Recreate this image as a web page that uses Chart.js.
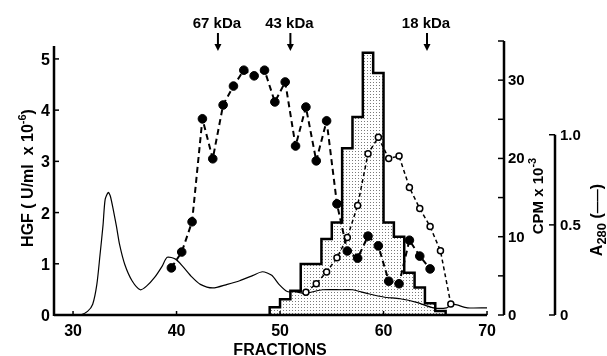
<!DOCTYPE html>
<html>
<head>
<meta charset="utf-8">
<script src="https://cdn.jsdelivr.net/npm/chart.js@4.4.1/dist/chart.umd.min.js"></script>
<style>
  html, body { margin: 0; padding: 0; background: #fff; }
  #wrap { width: 607px; height: 356px; position: relative; }
</style>
</head>
<body>
<div id="wrap"><canvas id="chart"></canvas></div>
<script>
// HGF activity (filled circles), U/ml x 10^-6
const hgfFractions = [39.5, 40.5, 41.5, 42.5, 43.5, 44.5, 45.5, 46.5, 47.5, 48.5, 49.5, 50.5, 51.5,
	52.5, 53.5, 54.5, 55.5, 56.5, 57.5, 58.5, 59.5, 60.5, 61.5, 62.5, 63.5, 64.5];
const hgfValues = [0.92, 1.23, 1.82, 3.83, 3.05, 4.10, 4.47, 4.78, 4.67, 4.78, 4.16, 4.55, 3.30,
	4.06, 3.01, 3.79, 2.17, 1.25, 1.11, 1.54, 1.35, 0.66, 0.61, 1.46, 1.15, 0.90];

// open circles, read on the CPM x 10^-3 axis
const openFractions = [52.5, 53.5, 54.5, 55.5, 56.5, 57.5, 58.5, 59.5, 60.5, 61.5, 62.5, 63.5, 64.5, 65.5, 66.5];
const openValues = [2.9, 4.0, 5.5, 7.3, 9.9, 14.0, 20.6, 22.7, 20.0, 20.3, 16.3, 13.6, 11.3, 8.2, 1.4];

// dotted histogram, CPM x 10^-3 per fraction (bin edges)
const cpmEdges = [49, 50, 51, 52, 53, 54, 55, 56, 57, 58, 59, 60, 61, 62, 63, 64, 65, 66];
const cpmCounts = [1.0, 2.0, 3.1, 6.5, 6.5, 9.7, 11.8, 21.3, 25.3, 33.5, 30.9, 11.8, 10.0, 5.4, 3.5, 1.5, 0.5];

// A280 trace (solid line)
const a280Fractions = [30.0, 30.7, 31.4, 31.9, 32.3, 32.6, 32.9, 33.1, 33.4, 33.6, 33.9, 34.2, 34.5, 35.0,
	35.7, 36.5, 37.1, 37.9, 38.6, 39.1, 39.9, 40.6, 41.5, 42.3, 43.5, 44.9, 46.1, 47.4, 48.3, 49.2,
	49.9, 50.7, 51.4, 52.4, 54.1, 56.0, 57.0, 58.4, 60.0, 61.6, 63.2, 64.8, 66.1, 66.7, 68.1, 70.0];
const a280Values = [0.0, 0.0, 0.02, 0.06, 0.17, 0.33, 0.50, 0.64, 0.68, 0.66, 0.58, 0.49, 0.39, 0.28,
	0.19, 0.14, 0.16, 0.21, 0.27, 0.32, 0.31, 0.27, 0.21, 0.17, 0.15, 0.17, 0.19, 0.22, 0.24, 0.22,
	0.17, 0.13, 0.13, 0.12, 0.14, 0.14, 0.14, 0.12, 0.10, 0.09, 0.07, 0.04, 0.04, 0.06, 0.04, 0.04];

// axis ticks
const xTicks = [30, 40, 50, 60, 70];
const hgfTicks = [0, 1, 2, 3, 4, 5];
const cpmTicks = [0, 5, 10, 15, 20, 25, 30, 35];
const cpmLabels = [0, 10, 20, 30];
const a280Ticks = ['0', '0.5', '1.0'];

// size markers
const markerLabels = ['67 kDa', '43 kDa', '18 kDa'];
const markerFractions = [44, 51, 64.2];

const FONT = '"Liberation Sans", Arial, sans-serif';

function makeStipple() {
	const c = document.createElement('canvas');
	c.width = 3; c.height = 3;
	const g = c.getContext('2d');
	g.fillStyle = '#fff';
	g.fillRect(0, 0, 3, 3);
	g.fillStyle = '#7a7a7a';
	g.fillRect(1, 1, 1, 1);
	return g.createPattern(c, 'repeat');
}

function seg(ctx, x1, y1, x2, y2, w) {
	ctx.lineWidth = w;
	ctx.beginPath();
	ctx.moveTo(x1, y1);
	ctx.lineTo(x2, y2);
	ctx.stroke();
}

// rotated text made of parts {t, size, dy}
function rotatedText(ctx, parts, bx, cy) {
	ctx.save();
	ctx.translate(bx, cy);
	ctx.rotate(-Math.PI / 2);
	let total = 0;
	parts.forEach(p => {
		ctx.font = `bold ${p.size}px ${FONT}`;
		p.w = ctx.measureText(p.t).width;
		total += p.w;
	});
	let pos = -total / 2;
	ctx.textAlign = 'left';
	ctx.textBaseline = 'alphabetic';
	parts.forEach(p => {
		ctx.font = `bold ${p.size}px ${FONT}`;
		ctx.fillText(p.t, pos, p.dy || 0);
		pos += p.w;
	});
	ctx.restore();
}

const axisFrame = {
	id: 'axisFrame',
	afterDraw(chart) {
		const { ctx, chartArea } = chart;
		const x = chart.scales.x;
		const yH = chart.scales.yHgf;
		const yC = chart.scales.yCpm;
		const yA = chart.scales.yA280;
		ctx.save();
		ctx.strokeStyle = '#000';
		ctx.fillStyle = '#000';

		// bottom axis
		const yb = yH.getPixelForValue(0);
		const xl = chartArea.left;
		seg(ctx, xl, yb, x.getPixelForValue(70), yb, 2.5);
		ctx.font = `bold 16px ${FONT}`;
		ctx.textAlign = 'center';
		ctx.textBaseline = 'alphabetic';
		xTicks.forEach(v => {
			const px = x.getPixelForValue(v);
			seg(ctx, px, yb, px, yb - 4, 1.5);
			ctx.fillText(String(v), px, yb + 21);
		});
		ctx.fillText('FRACTIONS', (x.getPixelForValue(30) + x.getPixelForValue(70)) / 2, 355);

		// left HGF axis
		seg(ctx, xl, yb + 1, xl, yH.getPixelForValue(5.25), 2.5);
		ctx.textAlign = 'right';
		hgfTicks.forEach(v => {
			const py = yH.getPixelForValue(v);
			seg(ctx, xl, py, xl + 5, py, 1.5);
			ctx.fillText(String(v), xl - 4, py + 6);
		});
		rotatedText(ctx, [
			{ t: 'HGF ( U/ml  x 10', size: 16 },
			{ t: '-6', size: 11, dy: -7 },
			{ t: ')', size: 16 }
		], 33, 178);

		// right CPM axis
		const xr = chartArea.right;
		seg(ctx, xr, yC.getPixelForValue(0), xr, yC.getPixelForValue(35), 2.5);
		cpmTicks.forEach(v => {
			const py = yC.getPixelForValue(v);
			seg(ctx, xr - 6, py, xr, py, 1.5);
		});
		ctx.font = `bold 15px ${FONT}`;
		ctx.textAlign = 'left';
		cpmLabels.forEach(v => {
			ctx.fillText(String(v), xr + 4, yC.getPixelForValue(v) + 5);
		});
		rotatedText(ctx, [
			{ t: 'CPM x 10', size: 15 },
			{ t: '-3', size: 11, dy: -7 }
		], 543, 196);

		// A280 axis
		const xa = 555;
		seg(ctx, xa, yA.getPixelForValue(0), xa, yA.getPixelForValue(1.0), 2.5);
		ctx.font = `bold 15px ${FONT}`;
		a280Ticks.forEach(t => {
			const py = yA.getPixelForValue(parseFloat(t));
			seg(ctx, xa - 6, py, xa, py, 1.5);
			ctx.fillText(t, xa + 5, py + 5);
		});
		rotatedText(ctx, [
			{ t: 'A', size: 16 },
			{ t: '280', size: 13, dy: 4 },
			{ t: ' (', size: 16 },
			{ t: '\u2014\u2014', size: 12, dy: -1 },
			{ t: ')', size: 16 }
		], 602, 220);

		// size markers with arrows
		ctx.font = `bold 15px ${FONT}`;
		ctx.textAlign = 'center';
		markerLabels.forEach((lab, i) => {
			const px = x.getPixelForValue(markerFractions[i]);
			ctx.fillText(lab, px - 1, 28);
			seg(ctx, px, 33, px, 46, 2);
			ctx.beginPath();
			ctx.moveTo(px - 3.5, 44);
			ctx.lineTo(px + 3.5, 44);
			ctx.lineTo(px, 51);
			ctx.closePath();
			ctx.fill();
		});
		ctx.restore();
	}
};

const histData = [{ x: cpmEdges[0], y: 0 }];
cpmCounts.forEach((c, i) => histData.push({ x: cpmEdges[i], y: c }));
histData.push({ x: cpmEdges[cpmEdges.length - 1], y: 0 });

const ctx = document.getElementById('chart').getContext('2d');
new Chart(ctx, {
	type: 'line',
	data: {
		datasets: [
			{
				label: 'HGF',
				data: hgfFractions.map((f, i) => ({ x: f, y: hgfValues[i] })),
				yAxisID: 'yHgf',
				borderColor: '#000',
				borderWidth: 2,
				borderDash: [6, 4],
				pointRadius: 4.3,
				pointBackgroundColor: '#000',
				pointBorderColor: '#000',
				pointBorderWidth: 1,
				fill: false,
				order: 0
			},
			{
				label: 'open',
				data: openFractions.map((f, i) => ({ x: f, y: openValues[i] })),
				yAxisID: 'yCpm',
				borderColor: '#000',
				borderWidth: 1.5,
				borderDash: [4, 3],
				pointRadius: 3,
				pointBackgroundColor: '#fff',
				pointBorderColor: '#000',
				pointBorderWidth: 1.5,
				fill: false,
				order: 1
			},
			{
				label: 'A280',
				data: a280Fractions.map((f, i) => ({ x: f, y: a280Values[i] })),
				yAxisID: 'yA280',
				borderColor: '#000',
				borderWidth: 1.2,
				pointRadius: 0,
				tension: 0.25,
				fill: false,
				order: 2
			},
			{
				label: 'CPM',
				data: histData,
				yAxisID: 'yCpm',
				borderColor: '#000',
				borderWidth: 2.5,
				stepped: 'before',
				pointRadius: 0,
				backgroundColor: makeStipple(),
				fill: 'origin',
				order: 3
			}
		]
	},
	options: {
		responsive: true,
		maintainAspectRatio: false,
		animation: false,
		layout: { padding: { left: 54, right: 103, top: 41, bottom: 41 } },
		plugins: { legend: { display: false }, tooltip: { enabled: false } },
		scales: {
			x: { type: 'linear', min: 28.16, max: 71.64, display: false },
			yHgf: { type: 'linear', min: 0, max: 5.35, display: false },
			yCpm: { type: 'linear', min: 0, max: 35, display: false },
			yA280: { type: 'linear', min: 0, max: 1.52, display: false }
		}
	},
	plugins: [axisFrame]
});
</script>
</body>
</html>
